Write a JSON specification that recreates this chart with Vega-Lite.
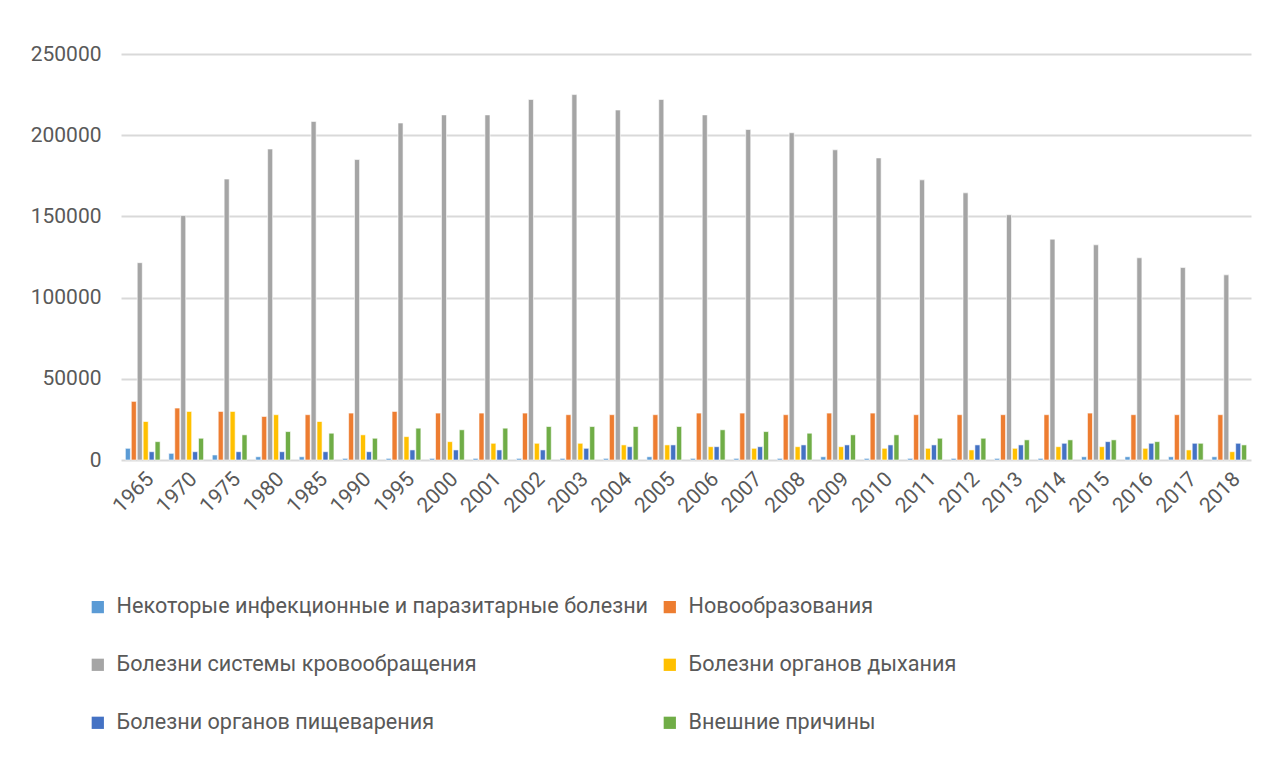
{
  "$schema": "https://vega.github.io/schema/vega-lite/v6.json",
  "autosize": "none",
  "width": 1130,
  "height": 406,
  "padding": {"left": 121, "top": 54, "right": 18, "bottom": 301},
  "background": "white",
  "data": {
    "values": [
      {"year":"1965","s":"Некоторые инфекционные и паразитарные болезни","v":7200},
      {"year":"1965","s":"Новообразования","v":36100},
      {"year":"1965","s":"Болезни системы кровообращения","v":121500},
      {"year":"1965","s":"Болезни органов дыхания","v":23700},
      {"year":"1965","s":"Болезни органов пищеварения","v":5100},
      {"year":"1965","s":"Внешние причины","v":11300},
      {"year":"1970","s":"Некоторые инфекционные и паразитарные болезни","v":4100},
      {"year":"1970","s":"Новообразования","v":32000},
      {"year":"1970","s":"Болезни системы кровообращения","v":150500},
      {"year":"1970","s":"Болезни органов дыхания","v":29900},
      {"year":"1970","s":"Болезни органов пищеварения","v":5100},
      {"year":"1970","s":"Внешние причины","v":13400},
      {"year":"1975","s":"Некоторые инфекционные и паразитарные болезни","v":3100},
      {"year":"1975","s":"Новообразования","v":29900},
      {"year":"1975","s":"Болезни системы кровообращения","v":173000},
      {"year":"1975","s":"Болезни органов дыхания","v":29900},
      {"year":"1975","s":"Болезни органов пищеварения","v":5100},
      {"year":"1975","s":"Внешние причины","v":15500},
      {"year":"1980","s":"Некоторые инфекционные и паразитарные болезни","v":2000},
      {"year":"1980","s":"Новообразования","v":26800},
      {"year":"1980","s":"Болезни системы кровообращения","v":191500},
      {"year":"1980","s":"Болезни органов дыхания","v":27900},
      {"year":"1980","s":"Болезни органов пищеварения","v":5100},
      {"year":"1980","s":"Внешние причины","v":17500},
      {"year":"1985","s":"Некоторые инфекционные и паразитарные болезни","v":2000},
      {"year":"1985","s":"Новообразования","v":27900},
      {"year":"1985","s":"Болезни системы кровообращения","v":208500},
      {"year":"1985","s":"Болезни органов дыхания","v":23700},
      {"year":"1985","s":"Болезни органов пищеварения","v":5100},
      {"year":"1985","s":"Внешние причины","v":16500},
      {"year":"1990","s":"Некоторые инфекционные и паразитарные болезни","v":1000},
      {"year":"1990","s":"Новообразования","v":28900},
      {"year":"1990","s":"Болезни системы кровообращения","v":185000},
      {"year":"1990","s":"Болезни органов дыхания","v":15500},
      {"year":"1990","s":"Болезни органов пищеварения","v":5100},
      {"year":"1990","s":"Внешние причины","v":13400},
      {"year":"1995","s":"Некоторые инфекционные и паразитарные болезни","v":1000},
      {"year":"1995","s":"Новообразования","v":29900},
      {"year":"1995","s":"Болезни системы кровообращения","v":207500},
      {"year":"1995","s":"Болезни органов дыхания","v":14400},
      {"year":"1995","s":"Болезни органов пищеварения","v":6200},
      {"year":"1995","s":"Внешние причины","v":19600},
      {"year":"2000","s":"Некоторые инфекционные и паразитарные болезни","v":1000},
      {"year":"2000","s":"Новообразования","v":28900},
      {"year":"2000","s":"Болезни системы кровообращения","v":212500},
      {"year":"2000","s":"Болезни органов дыхания","v":11300},
      {"year":"2000","s":"Болезни органов пищеварения","v":6200},
      {"year":"2000","s":"Внешние причины","v":18600},
      {"year":"2001","s":"Некоторые инфекционные и паразитарные болезни","v":1000},
      {"year":"2001","s":"Новообразования","v":28900},
      {"year":"2001","s":"Болезни системы кровообращения","v":212500},
      {"year":"2001","s":"Болезни органов дыхания","v":10300},
      {"year":"2001","s":"Болезни органов пищеварения","v":6200},
      {"year":"2001","s":"Внешние причины","v":19600},
      {"year":"2002","s":"Некоторые инфекционные и паразитарные болезни","v":1000},
      {"year":"2002","s":"Новообразования","v":28900},
      {"year":"2002","s":"Болезни системы кровообращения","v":222000},
      {"year":"2002","s":"Болезни органов дыхания","v":10300},
      {"year":"2002","s":"Болезни органов пищеварения","v":6200},
      {"year":"2002","s":"Внешние причины","v":20600},
      {"year":"2003","s":"Некоторые инфекционные и паразитарные болезни","v":1000},
      {"year":"2003","s":"Новообразования","v":27900},
      {"year":"2003","s":"Болезни системы кровообращения","v":225000},
      {"year":"2003","s":"Болезни органов дыхания","v":10300},
      {"year":"2003","s":"Болезни органов пищеварения","v":7200},
      {"year":"2003","s":"Внешние причины","v":20600},
      {"year":"2004","s":"Некоторые инфекционные и паразитарные болезни","v":1000},
      {"year":"2004","s":"Новообразования","v":27900},
      {"year":"2004","s":"Болезни системы кровообращения","v":215500},
      {"year":"2004","s":"Болезни органов дыхания","v":9300},
      {"year":"2004","s":"Болезни органов пищеварения","v":8200},
      {"year":"2004","s":"Внешние причины","v":20600},
      {"year":"2005","s":"Некоторые инфекционные и паразитарные болезни","v":2000},
      {"year":"2005","s":"Новообразования","v":27900},
      {"year":"2005","s":"Болезни системы кровообращения","v":222000},
      {"year":"2005","s":"Болезни органов дыхания","v":9300},
      {"year":"2005","s":"Болезни органов пищеварения","v":9300},
      {"year":"2005","s":"Внешние причины","v":20600},
      {"year":"2006","s":"Некоторые инфекционные и паразитарные болезни","v":1000},
      {"year":"2006","s":"Новообразования","v":28900},
      {"year":"2006","s":"Болезни системы кровообращения","v":212500},
      {"year":"2006","s":"Болезни органов дыхания","v":8200},
      {"year":"2006","s":"Болезни органов пищеварения","v":8200},
      {"year":"2006","s":"Внешние причины","v":18600},
      {"year":"2007","s":"Некоторые инфекционные и паразитарные болезни","v":1000},
      {"year":"2007","s":"Новообразования","v":28900},
      {"year":"2007","s":"Болезни системы кровообращения","v":203500},
      {"year":"2007","s":"Болезни органов дыхания","v":7200},
      {"year":"2007","s":"Болезни органов пищеварения","v":8200},
      {"year":"2007","s":"Внешние причины","v":17500},
      {"year":"2008","s":"Некоторые инфекционные и паразитарные болезни","v":1000},
      {"year":"2008","s":"Новообразования","v":27900},
      {"year":"2008","s":"Болезни системы кровообращения","v":201500},
      {"year":"2008","s":"Болезни органов дыхания","v":8200},
      {"year":"2008","s":"Болезни органов пищеварения","v":9300},
      {"year":"2008","s":"Внешние причины","v":16500},
      {"year":"2009","s":"Некоторые инфекционные и паразитарные болезни","v":2000},
      {"year":"2009","s":"Новообразования","v":28900},
      {"year":"2009","s":"Болезни системы кровообращения","v":191000},
      {"year":"2009","s":"Болезни органов дыхания","v":8200},
      {"year":"2009","s":"Болезни органов пищеварения","v":9300},
      {"year":"2009","s":"Внешние причины","v":15500},
      {"year":"2010","s":"Некоторые инфекционные и паразитарные болезни","v":1000},
      {"year":"2010","s":"Новообразования","v":28900},
      {"year":"2010","s":"Болезни системы кровообращения","v":186000},
      {"year":"2010","s":"Болезни органов дыхания","v":7200},
      {"year":"2010","s":"Болезни органов пищеварения","v":9300},
      {"year":"2010","s":"Внешние причины","v":15500},
      {"year":"2011","s":"Некоторые инфекционные и паразитарные болезни","v":1000},
      {"year":"2011","s":"Новообразования","v":27900},
      {"year":"2011","s":"Болезни системы кровообращения","v":172500},
      {"year":"2011","s":"Болезни органов дыхания","v":7200},
      {"year":"2011","s":"Болезни органов пищеварения","v":9300},
      {"year":"2011","s":"Внешние причины","v":13400},
      {"year":"2012","s":"Некоторые инфекционные и паразитарные болезни","v":1000},
      {"year":"2012","s":"Новообразования","v":27900},
      {"year":"2012","s":"Болезни системы кровообращения","v":164500},
      {"year":"2012","s":"Болезни органов дыхания","v":6200},
      {"year":"2012","s":"Болезни органов пищеварения","v":9300},
      {"year":"2012","s":"Внешние причины","v":13400},
      {"year":"2013","s":"Некоторые инфекционные и паразитарные болезни","v":1000},
      {"year":"2013","s":"Новообразования","v":27900},
      {"year":"2013","s":"Болезни системы кровообращения","v":151000},
      {"year":"2013","s":"Болезни органов дыхания","v":7200},
      {"year":"2013","s":"Болезни органов пищеварения","v":9300},
      {"year":"2013","s":"Внешние причины","v":12400},
      {"year":"2014","s":"Некоторые инфекционные и паразитарные болезни","v":1000},
      {"year":"2014","s":"Новообразования","v":27900},
      {"year":"2014","s":"Болезни системы кровообращения","v":136000},
      {"year":"2014","s":"Болезни органов дыхания","v":8200},
      {"year":"2014","s":"Болезни органов пищеварения","v":10300},
      {"year":"2014","s":"Внешние причины","v":12400},
      {"year":"2015","s":"Некоторые инфекционные и паразитарные болезни","v":2000},
      {"year":"2015","s":"Новообразования","v":28900},
      {"year":"2015","s":"Болезни системы кровообращения","v":132500},
      {"year":"2015","s":"Болезни органов дыхания","v":8200},
      {"year":"2015","s":"Болезни органов пищеварения","v":11300},
      {"year":"2015","s":"Внешние причины","v":12400},
      {"year":"2016","s":"Некоторые инфекционные и паразитарные болезни","v":2000},
      {"year":"2016","s":"Новообразования","v":27900},
      {"year":"2016","s":"Болезни системы кровообращения","v":124500},
      {"year":"2016","s":"Болезни органов дыхания","v":7200},
      {"year":"2016","s":"Болезни органов пищеварения","v":10300},
      {"year":"2016","s":"Внешние причины","v":11300},
      {"year":"2017","s":"Некоторые инфекционные и паразитарные болезни","v":2000},
      {"year":"2017","s":"Новообразования","v":27900},
      {"year":"2017","s":"Болезни системы кровообращения","v":118500},
      {"year":"2017","s":"Болезни органов дыхания","v":6200},
      {"year":"2017","s":"Болезни органов пищеварения","v":10300},
      {"year":"2017","s":"Внешние причины","v":10300},
      {"year":"2018","s":"Некоторые инфекционные и паразитарные болезни","v":2000},
      {"year":"2018","s":"Новообразования","v":27900},
      {"year":"2018","s":"Болезни системы кровообращения","v":114000},
      {"year":"2018","s":"Болезни органов дыхания","v":5100},
      {"year":"2018","s":"Болезни органов пищеварения","v":10300},
      {"year":"2018","s":"Внешние причины","v":9300}
    ]
  },
  "mark": {"type": "bar", "stroke": "white", "strokeWidth": 0.6},
  "encoding": {
    "x": {
      "field": "year", "type": "nominal", "sort": null,
      "scale": {"paddingInner": 0.2, "paddingOuter": 0.1},
      "axis": {
        "title": null, "labelAngle": -45, "labelFontSize": 21, "labelFont": "Roboto",
        "labelColor": "#595959", "ticks": false, "domain": false, "labelPadding": 8,
        "labelOverlap": false
      }
    },
    "xOffset": {
      "field": "s", "type": "nominal",
      "sort": ["Некоторые инфекционные и паразитарные болезни","Новообразования","Болезни системы кровообращения","Болезни органов дыхания","Болезни органов пищеварения","Внешние причины"],
      "scale": {"paddingInner": 0.15}
    },
    "y": {
      "field": "v", "type": "quantitative",
      "scale": {"domain": [0, 250000], "nice": false},
      "axis": {
        "title": null, "values": [0, 50000, 100000, 150000, 200000, 250000],
        "format": "d", "labelFontSize": 21, "labelFont": "Roboto", "labelColor": "#595959",
        "ticks": false, "domain": false, "labelPadding": 20,
        "gridColor": "#d9d9d9", "gridWidth": 2
      }
    },
    "color": {
      "field": "s", "type": "nominal",
      "scale": {
        "domain": ["Некоторые инфекционные и паразитарные болезни","Новообразования","Болезни системы кровообращения","Болезни органов дыхания","Болезни органов пищеварения","Внешние причины"],
        "range": ["#5B9BD5","#ED7D31","#A5A5A5","#FFC000","#4472C4","#70AD47"]
      },
      "legend": {
        "title": null, "orient": "none", "legendX": -34, "legendY": 542,
        "direction": "horizontal",
        "columns": 2, "columnPadding": 10, "rowPadding": 35,
        "symbolType": "square", "symbolSize": 150, "symbolStrokeWidth": 0,
        "labelFontSize": 21.6, "labelFont": "Roboto", "labelColor": "#595959",
        "labelLimit": 800, "labelOffset": 8
      }
    }
  },
  "config": {"view": {"stroke": null}}
}
